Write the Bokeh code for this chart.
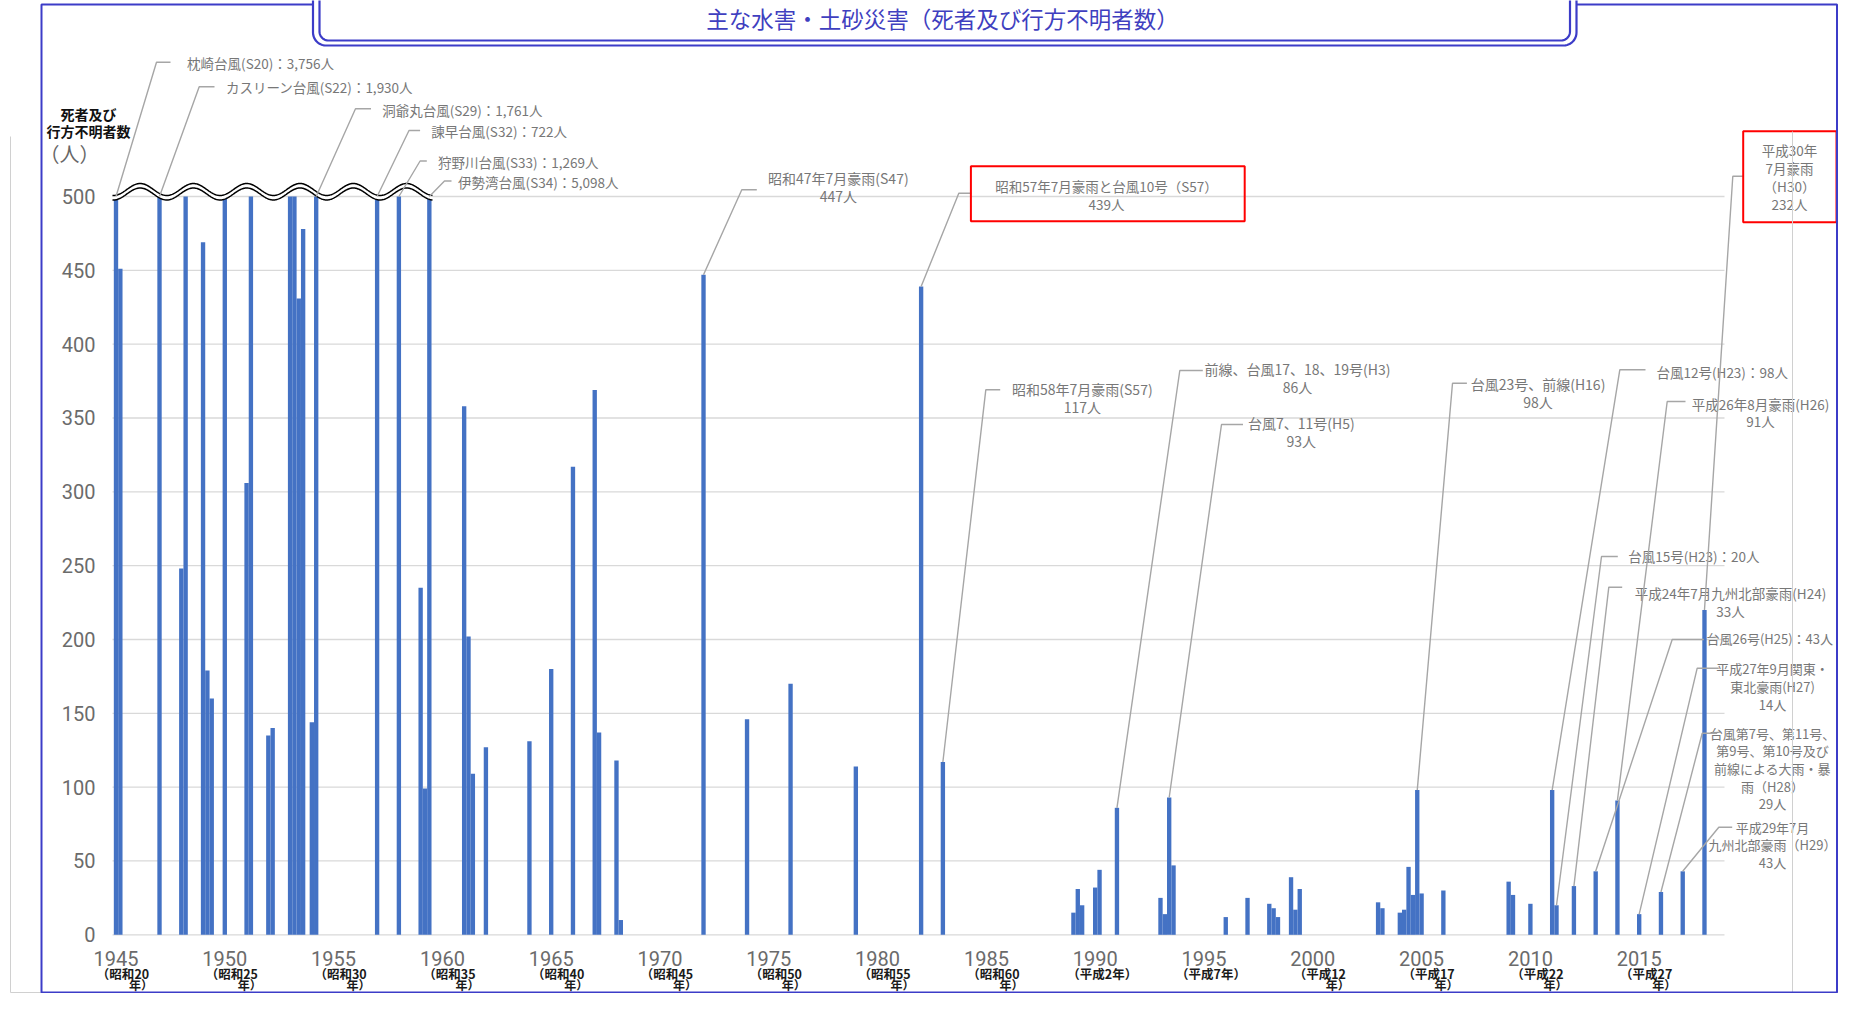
import numpy as np
from bokeh.plotting import figure
from bokeh.models import Range1d, FixedTicker, ColumnDataSource
from bokeh.core.properties import value
from bokeh.embed import file_html
from bokeh.resources import INLINE

# ---------------- data ----------------
event_years = [1945, 1945, 1947, 1948, 1948, 1949, 1949, 1949, 1950, 1951, 1951, 1952, 1952,
               1953, 1953, 1953, 1953, 1954, 1954, 1957, 1958, 1959, 1959, 1959,
               1961, 1961, 1961, 1962, 1964, 1965, 1966, 1967, 1967, 1968, 1968,
               1972, 1974, 1976, 1979, 1982, 1983,
               1989, 1989, 1989, 1990, 1990, 1991, 1993, 1993, 1993, 1993,
               1996, 1997, 1998, 1998, 1998, 1999, 1999, 1999,
               2003, 2003, 2004, 2004, 2004, 2004, 2004, 2005, 2006,
               2009, 2009, 2010, 2011, 2011, 2012, 2013, 2014, 2015, 2016, 2017, 2018]
deaths = [3756, 451, 1930, 248, 838, 469, 179, 160, 539, 306, 943, 135, 140,
          1013, 1124, 431, 478, 144, 1761, 722, 1269, 235, 99, 5098,
          358, 202, 109, 127, 131, 180, 317, 369, 137, 118, 10,
          447, 146, 170, 114, 439, 117,
          15, 31, 20, 32, 44, 86, 25, 14, 93, 47,
          12, 25, 21, 18, 12, 39, 17, 31,
          22, 18, 15, 17, 46, 27, 98, 28, 30,
          36, 27, 21, 98, 20, 33, 43, 91, 14, 29, 43, 220]

axis_max = 500
y_ticks = [0, 50, 100, 150, 200, 250, 300, 350, 400, 450, 500]
tick_years = [1945, 1950, 1955, 1960, 1965, 1970, 1975, 1980, 1985, 1990, 1995, 2000, 2005, 2010, 2015]
era_line1 = ["（昭和20", "（昭和25", "（昭和30", "（昭和35", "（昭和40", "（昭和45", "（昭和50",
             "（昭和55", "（昭和60", "（平成2年）", "（平成7年）", "（平成12", "（平成17", "（平成22", "（平成27"]
era_line2 = ["年）", "年）", "年）", "年）", "年）", "年）", "年）", "年）", "年）", "", "",
             "年）", "年）", "年）", "年）"]

title_text = "主な水害・土砂災害（死者及び行方不明者数）"
y_title = ["死者及び", "行方不明者数", "（人）"]

# callout texts and the (year, slot) of the bar they point to
callout_texts = [
    ["枕崎台風(S20)：3,756人"],
    ["カスリーン台風(S22)：1,930人"],
    ["洞爺丸台風(S29)：1,761人"],
    ["諫早台風(S32)：722人"],
    ["狩野川台風(S33)：1,269人"],
    ["伊勢湾台風(S34)：5,098人"],
    ["昭和47年7月豪雨(S47)", "447人"],
    ["昭和57年7月豪雨と台風10号（S57）", "439人"],
    ["昭和58年7月豪雨(S57)", "117人"],
    ["前線、台風17、18、19号(H3)", "86人"],
    ["台風7、11号(H5)", "93人"],
    ["台風23号、前線(H16)", "98人"],
    ["台風12号(H23)：98人"],
    ["平成26年8月豪雨(H26)", "91人"],
    ["平成30年", "7月豪雨", "（H30）", "232人"],
    ["台風15号(H23)：20人"],
    ["平成24年7月九州北部豪雨(H24)", "33人"],
    ["台風26号(H25)：43人"],
    ["平成27年9月関東・", "東北豪雨(H27)", "14人"],
    ["台風第7号、第11号、", "第9号、第10号及び", "前線による大雨・暴", "雨（H28）", "29人"],
    ["平成29年7月", "九州北部豪雨（H29）", "43人"],
]
callout_targets = [(1945, 0), (1947, 0), (1954, 1), (1957, 0), (1958, 0), (1959, 2),
                   (1972, 0), (1982, 0), (1983, 0), (1991, 0), (1993, 2), (2004, 4),
                   (2011, 0), (2014, 0), (2018, 0), (2011, 1), (2012, 0), (2013, 0),
                   (2015, 0), (2016, 0), (2017, 0)]

# ---------------- layout (picture pixels) ----------------
# (align, text x, first line y, line step, elbow x0, elbow x1, elbow y, font px, red box or None)
callout_layout = [
    ("left", 186.6, 62.5, 0, 170, 156, 61.7, 13.5, None),
    ("left", 225.4, 86.5, 0, 214, 198.7, 86.3, 13.5, None),
    ("left", 381.7, 109.0, 0, 370.5, 355, 108.3, 13.5, None),
    ("left", 430.8, 130.5, 0, 419.6, 408.5, 130.0, 13.5, None),
    ("left", 437.5, 161.0, 0, 426.3, 419.6, 160.5, 13.5, None),
    ("left", 457.6, 181.0, 0, 451, 444, 180.5, 13.5, None),
    ("center", 837.8, 177.3, 17.7, 756.3, 741.3, 189.3, 14, None),
    ("center", 1106.0, 185.0, 18.3, 971, 958.3, 192.7, 13.5, (970.4, 1244.2, 165.7, 220.7)),
    ("center", 1081.8, 388.3, 18.4, 999.7, 985.3, 389.3, 14, None),
    ("center", 1297.0, 368.3, 17.7, 1202.3, 1179.3, 370.0, 14, None),
    ("center", 1300.8, 422.7, 17.3, 1242.5, 1221, 424.0, 14, None),
    ("center", 1537.5, 383.3, 18.4, 1466.4, 1452, 382.7, 14, None),
    ("left", 1656.0, 371.7, 0, 1645, 1619.3, 369.3, 13.5, None),
    ("center", 1760.0, 403.3, 16.7, 1685, 1666.7, 401.0, 13.5, None),
    ("center", 1789.0, 149.3, 18.1, 1742.7, 1732.3, 175.7, 13.5, (1742.7, 1836, 130.7, 221.7)),
    ("left", 1627.7, 555.0, 0, 1617.3, 1601, 556.0, 13.5, None),
    ("center", 1730.0, 592.7, 17.3, 1621.7, 1608.3, 586.7, 13.5, None),
    ("left", 1706.0, 638.3, 0, 1703.3, 1671.7, 639.0, 13, None),
    ("center", 1772.0, 668.3, 18.0, 1718.3, 1696.7, 667.7, 13, None),
    ("center", 1772.0, 732.7, 17.65, 1716.7, 1701.7, 732.7, 13, None),
    ("center", 1772.0, 826.7, 17.5, 1731.7, 1718.3, 826.7, 13, None),
]

W, H = 1838, 993


def dx(P):
    return 1945 + (P - 115.5) / 21.76


def dy(P):
    return (934.3 - P) / 1.4766


JP = value("Noto Sans CJK JP")
BLUE = "#3C3CC8"
BAR = "#4472C4"
ANN = "#777777"
LEAD = "#A6A6A6"

# bar positions: events in the same year sit side by side, 0.2 year apart
slot_x = []
seen = {}
for yr in event_years:
    k = seen.get(yr, 0)
    slot_x.append(yr + 0.2 * k)
    seen[yr] = k + 1
bar_top = [min(d, axis_max) for d in deaths]


def bar_index(yr, k):
    idx = [i for i, y in enumerate(event_years) if y == yr]
    return idx[k]


p = figure(width=W, height=H, output_backend="svg", toolbar_location=None, title=None,
           x_range=Range1d(dx(0), dx(W)), y_range=Range1d(dy(H), dy(0)), min_border=0)
p.min_border_left = p.min_border_right = p.min_border_top = p.min_border_bottom = 0
p.outline_line_color = None
p.background_fill_color = "white"
p.border_fill_color = "white"
p.xgrid.visible = False
p.ygrid.visible = False

# axes
for ax in (p.xaxis[0], p.yaxis[0]):
    ax.major_tick_line_color = None
    ax.minor_tick_line_color = None
    ax.major_tick_out = 0
    ax.major_tick_in = 0
    ax.minor_tick_out = 0
    ax.axis_line_color = None
    ax.major_label_text_font = "Roboto"
    ax.major_label_text_font_size = "20px"
    ax.major_label_text_color = "#6b6b6b"
p.xaxis[0].ticker = FixedTicker(ticks=tick_years)
p.xaxis[0].fixed_location = 0
p.xaxis[0].major_label_standoff = 16
p.yaxis[0].ticker = FixedTicker(ticks=y_ticks)
p.yaxis[0].fixed_location = dx(100)
p.yaxis[0].major_label_standoff = 5

# gridlines (plot area only)
p.segment(x0=[dx(112)] * len(y_ticks), x1=[dx(1724)] * len(y_ticks), y0=y_ticks, y1=y_ticks,
          line_color="#D9D9D9", line_width=1.3)

# bars
src = ColumnDataSource(dict(x=slot_x, top=bar_top))
p.vbar(x="x", top="top", bottom=0, width=0.2, source=src, fill_color=BAR, line_color=None)

# wavy break at 500
wx = np.linspace(112, 432, 500)
ph = 2 * np.pi * (wx - 113) / 53.3
wt = 189 + 6 * np.cos(ph)
wb = 193.5 + 6 * np.cos(ph)
p.patch(x=list(dx(np.concatenate([wx, wx[::-1]]))), y=list(dy(np.concatenate([wt, wb[::-1]]))),
        fill_color="white", line_color=None)
p.line(x=list(dx(wx)), y=list(dy(wt)), line_color="black", line_width=1.5)
p.line(x=list(dx(wx)), y=list(dy(wb)), line_color="black", line_width=1.5)

# callouts
lead_xs, lead_ys = [], []
boxes = dict(l=[], r=[], t=[], b=[])
for lines, (yr, k), lay in zip(callout_texts, callout_targets, callout_layout):
    align, tx, ty, step, ex0, ex1, ey, fs, box = lay
    i = bar_index(yr, k)
    lead_xs.append([dx(ex0), dx(ex1), slot_x[i]])
    lead_ys.append([dy(ey), dy(ey), bar_top[i]])
    p.text(x=[dx(tx)] * len(lines), y=[dy(ty + j * step) for j in range(len(lines))], text=lines,
           text_align=align, text_baseline="middle", text_font=JP, text_font_size=f"{fs}px",
           text_color=ANN)
    if box:
        boxes["l"].append(dx(box[0])); boxes["r"].append(dx(box[1]))
        boxes["t"].append(dy(box[2])); boxes["b"].append(dy(box[3]))

p.multi_line(xs=lead_xs, ys=lead_ys, line_color=LEAD, line_width=1.4)
p.quad(left=boxes["l"], right=boxes["r"], top=boxes["t"], bottom=boxes["b"],
       fill_color=None, line_color="#FF0000", line_width=2)

# era sub-labels under the year ticks
tick_px = [115.5 + (t - 1945) * 21.76 for t in tick_years]
p.text(x=[dx(t + 7) for t in tick_px], y=[dy(972.5)] * len(tick_px), text=era_line1,
       text_align="center", text_baseline="middle", text_font=JP, text_font_size="12.5px",
       text_font_style="bold", text_color="#1a1a1a")
p.text(x=[dx(t + 25) for t in tick_px], y=[dy(983.5)] * len(tick_px), text=era_line2,
       text_align="center", text_baseline="middle", text_font=JP, text_font_size="12px",
       text_font_style="bold", text_color="#1a1a1a")

# y axis title
p.text(x=[dx(88), dx(88)], y=[dy(113), dy(130.5)], text=y_title[:2], text_align="center",
       text_baseline="middle", text_font=JP, text_font_size="14px", text_font_style="bold",
       text_color="#111111")
p.text(x=[dx(69)], y=[dy(153)], text=y_title[2:], text_align="center", text_baseline="middle",
       text_font=JP, text_font_size="20px", text_color="#666666")

# frame decorations: chart border lines, outer blue border, title box
p.segment(x0=[dx(1792), dx(10), dx(10)], x1=[dx(1792), dx(10), dx(41)],
          y0=[dy(131), dy(136), dy(992)], y1=[dy(992), dy(992), dy(992)],
          line_color="#D0D0D0", line_width=1)
p.multi_line(xs=[[dx(312), dx(41), dx(41), dx(1836.5), dx(1836.5), dx(1576)]],
             ys=[[dy(4), dy(4), dy(992), dy(992), dy(4), dy(4)]],
             line_color=BLUE, line_width=2)


def u_shape(xl, xr, yb, r, ytop=-5):
    t = np.linspace(0, np.pi / 2, 12)
    xs = [xl] + list(xl + r - r * np.cos(t)) + list(xr - r + r * np.sin(t)) + [xr]
    ys = [ytop] + list(yb - r + r * np.sin(t)) + list(yb - r + r * np.cos(t)) + [ytop]
    return [dx(v) for v in xs], [dy(v) for v in ys]


ox, oy = u_shape(312.5, 1576, 45, 13)
ix, iy = u_shape(319, 1569.5, 40, 9)
p.patch(x=ox, y=oy, fill_color="white", line_color=None)
p.multi_line(xs=[ox, ix], ys=[oy, iy], line_color=BLUE, line_width=2.2)
p.text(x=[dx(942)], y=[dy(17)], text=[title_text], text_align="center", text_baseline="middle",
       text_font=JP, text_font_size="22.5px", text_color="#3F3FBF")

open("out.html", "w").write(file_html(p, INLINE))
